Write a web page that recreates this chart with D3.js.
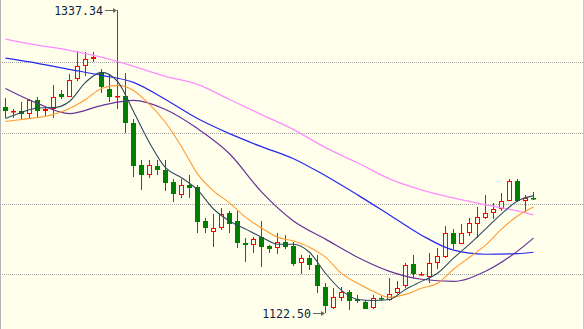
<!DOCTYPE html>
<html><head><meta charset="utf-8">
<script src="https://cdn.jsdelivr.net/npm/d3@7"></script>
<style>html,body{margin:0;padding:0;background:#FFFFEC;overflow:hidden}svg{display:block}</style>
</head><body>
<svg id="c" width="584" height="329"></svg>
<script>
// ---- data (prices) ----
const opens  = [1268.7,1264.5,1265.2,1263.7,1273.0,1265.2,1267.3,1277.3,1275.8,1287.9,1297.2,1302.1,1292.2,1280.8,1275.1,1276.5,1257.4,1227.5,1220.4,1226.8,1223.9,1215.4,1206.2,1213.3,1211.8,1187.7,1179.9,1182.7,1193.4,1187.7,1172.0,1170.6,1176.3,1169.9,1168.5,1172.8,1169.9,1157.8,1161.4,1156.4,1140.8,1126.5,1132.9,1137.2,1132.2,1130.1,1126.5,1132.9,1131.5,1136.5,1141.5,1157.1,1149.7,1147.9,1157.8,1162.1,1179.2,1171.3,1179.2,1185.5,1189.8,1193.4,1196.2,1201.9,1216.1,1201.9,1204.0];
const highs  = [1274.4,1267.3,1271.6,1273.7,1275.1,1268.7,1283.7,1280.1,1291.5,1307.8,1307.1,1307.1,1295.0,1291.5,1337.34,1292.2,1260.2,1231.0,1231.0,1231.0,1231.0,1217.5,1217.5,1220.4,1213.3,1189.8,1192.7,1196.9,1194.8,1194.8,1175.6,1176.3,1187.7,1170.6,1179.2,1177.7,1172.8,1163.5,1163.5,1163.5,1143.6,1140.0,1140.8,1138.6,1135.1,1131.5,1135.1,1134.4,1147.2,1145.0,1157.8,1163.5,1151.4,1164.9,1168.5,1184.1,1182.0,1185.5,1189.8,1197.6,1206.2,1200.5,1207.6,1217.5,1217.5,1206.2,1208.3];
const lows   = [1260.9,1260.9,1259.5,1260.9,1260.9,1262.3,1260.4,1273.7,1275.8,1286.5,1290.0,1300.0,1278.0,1271.6,1267.3,1250.2,1219.0,1209.7,1218.3,1220.4,1209.0,1201.2,1204.0,1204.0,1179.2,1179.2,1169.2,1181.3,1179.2,1168.5,1158.5,1164.9,1155.0,1164.9,1164.2,1167.8,1155.7,1150.0,1152.8,1136.5,1122.5,1125.1,1130.8,1124.4,1129.4,1125.8,1125.1,1130.8,1130.8,1135.8,1140.0,1147.2,1148.6,1143.6,1153.5,1161.4,1167.8,1171.3,1177.0,1175.6,1189.1,1189.1,1194.8,1201.9,1201.2,1193.4,1202.6];
const closes = [1265.2,1265.2,1263.7,1273.0,1265.2,1267.3,1275.1,1275.8,1287.2,1297.2,1302.1,1303.6,1282.2,1275.1,1276.5,1256.7,1226.8,1220.4,1227.5,1223.9,1214.7,1206.9,1213.3,1211.1,1187.0,1182.7,1182.7,1192.7,1185.5,1172.0,1170.6,1174.9,1169.2,1167.8,1172.8,1169.2,1157.1,1161.4,1156.4,1141.5,1127.3,1133.7,1137.2,1130.8,1130.8,1125.8,1132.9,1132.6,1135.8,1140.0,1156.4,1150.0,1150.4,1157.8,1162.8,1179.2,1171.3,1179.2,1186.3,1190.5,1193.4,1196.2,1201.9,1216.1,1201.9,1204.0,1203.3];

// moving averages, read at the listed candle indices
const maShortIdx = [0,2,4,6,8,10,12,14,16,18,20,22,24,26,28,30,32,34,36,38,40,42,44,46,48,50,52,54,56,58,60,62,64,66];
const ma5  = [1260.2,1264.5,1267.7,1268.0,1272.3,1285.8,1292.9,1286.5,1265.2,1243.1,1225.4,1218.3,1209.7,1196.2,1187.7,1182.0,1176.3,1171.3,1171.3,1165.6,1150.7,1138.6,1132.2,1131.5,1132.2,1139.3,1145.0,1150.7,1161.4,1171.3,1182.0,1192.7,1201.9,1205.5];
const ma10 = [1258.1,1259.5,1260.9,1263.0,1267.3,1273.7,1281.5,1283.7,1280.1,1270.2,1257.4,1240.3,1221.1,1209.0,1200.5,1190.5,1182.7,1176.3,1173.5,1169.2,1162.1,1150.7,1143.6,1137.9,1133.7,1135.8,1140.1,1143.6,1153.6,1162.1,1170.6,1182.0,1191.2,1197.6];
const maLongIdx = [0,4,8,12,16,20,24,28,32,36,40,44,48,52,56,60,64,66];
const ma20 = [1281.5,1270.9,1263.7,1269.4,1273.0,1266.6,1253.1,1235.3,1208.3,1187.7,1174.9,1162.1,1152.1,1146.5,1145.0,1152.1,1166.4,1175.6];
const ma30 = [1302.9,1299.3,1295.0,1290.8,1285.8,1273.7,1260.2,1249.5,1240.3,1231.8,1219.7,1206.2,1192.0,1177.7,1167.1,1164.2,1164.6,1165.6];
const ma60 = [1316.4,1312.1,1308.5,1303.6,1297.2,1290.1,1284.4,1273.7,1263.0,1252.4,1239.6,1228.9,1217.5,1209.7,1204.0,1199.1,1194.8,1192.0];

const gridLevels = [1300,1250,1200,1150];

// ---- drawing ----
const W = 584, H = 329, BG = "#FFFFEC";
const svg = d3.select("#c");
svg.append("rect").attr("width",W).attr("height",H).attr("fill",BG);

const n = closes.length;
const x = d3.scaleLinear().domain([0,n-1]).range([5.5,533.5]);
const y = d3.scaleLinear().domain([1150,1300]).range([274.3,62.3]);

// grid
svg.append("g").selectAll("line").data(gridLevels).join("line")
  .attr("x1",0).attr("x2",W-1)
  .attr("y1",d=>Math.round(y(d))+0.5).attr("y2",d=>Math.round(y(d))+0.5)
  .attr("stroke","#A8A8A8").attr("stroke-width",1).attr("stroke-dasharray","1,1");

// borders
svg.append("line").attr("x1",0.5).attr("x2",0.5).attr("y1",0).attr("y2",H).attr("stroke","#B4B4B4");
svg.append("line").attr("x1",W-0.5).attr("x2",W-0.5).attr("y1",0).attr("y2",H).attr("stroke","#C8C8C8");

const RED = "#FF0000", GREEN = "#007F00";
const candles = d3.range(n).map(i=>({i,o:opens[i],h:highs[i],l:lows[i],c:closes[i]}));
const g = svg.append("g");
candles.forEach(d=>{
  const up = d.c >= d.o;
  const cx = x(d.i);
  const col = up ? RED : GREEN;
  g.append("line").attr("x1",cx).attr("x2",cx)
    .attr("y1",Math.round(y(d.h))).attr("y2",Math.round(y(d.l)))
    .attr("stroke",col).attr("stroke-width",1);
  const top = Math.round(y(Math.max(d.o,d.c)));
  const bot = Math.round(y(Math.min(d.o,d.c)));
  if (up) {
    if (bot - top < 2) {
      g.append("rect").attr("x",cx-2.5).attr("y",top).attr("width",5).attr("height",Math.max(1.5,bot-top))
        .attr("fill",RED);
    } else {
      g.append("rect").attr("x",cx-2).attr("y",top+0.5).attr("width",4).attr("height",bot-top-1)
        .attr("fill",BG).attr("stroke",RED).attr("stroke-width",1);
    }
  } else {
    g.append("rect").attr("x",cx-2.5).attr("y",top).attr("width",5).attr("height",Math.max(1.5,bot-top))
      .attr("fill",GREEN);
  }
});

// moving averages
const mas = [
  {idx:maLongIdx, v:ma60, col:"#FF8CFF", w:1.3},
  {idx:maLongIdx, v:ma30, col:"#2828F0", w:1.2},
  {idx:maLongIdx, v:ma20, col:"#663399", w:1.2},
  {idx:maShortIdx, v:ma10, col:"#FF9A30", w:1.1},
  {idx:maShortIdx, v:ma5,  col:"#2F4A66", w:1.1}
];
const line = d3.line().x(d=>x(d[0])).y(d=>y(d[1])).curve(d3.curveMonotoneX);
mas.forEach(m=>{
  svg.append("path").attr("d",line(m.idx.map((k,j)=>[k,m.v[j]])))
    .attr("fill","none").attr("stroke",m.col).attr("stroke-width",m.w);
});

// high / low annotations
const fmt = d3.format(".2f");
function annotate(i, val){
  const ax = x(i) - 0.5, ay = Math.round(y(val)) + 0.5;
  svg.append("line").attr("x1",ax-12).attr("x2",ax-2).attr("y1",ay).attr("y2",ay)
    .attr("stroke","#666").attr("stroke-width",1);
  svg.append("path").attr("d",`M${ax},${ay} L${ax-4},${ay-2.5} L${ax-4},${ay+2.5} Z`).attr("fill","#666");
  svg.append("text").attr("x",ax-14).attr("y",ay+4.5).attr("text-anchor","end")
    .attr("font-family","DejaVu Sans Mono, monospace").attr("font-size",11.6)
    .attr("fill","#0F1F44").text(fmt(val));
}
const hiI = d3.maxIndex(highs), loI = d3.minIndex(lows);
annotate(hiI, highs[hiI]);
annotate(loI, lows[loI]);
</script>
</body></html>
